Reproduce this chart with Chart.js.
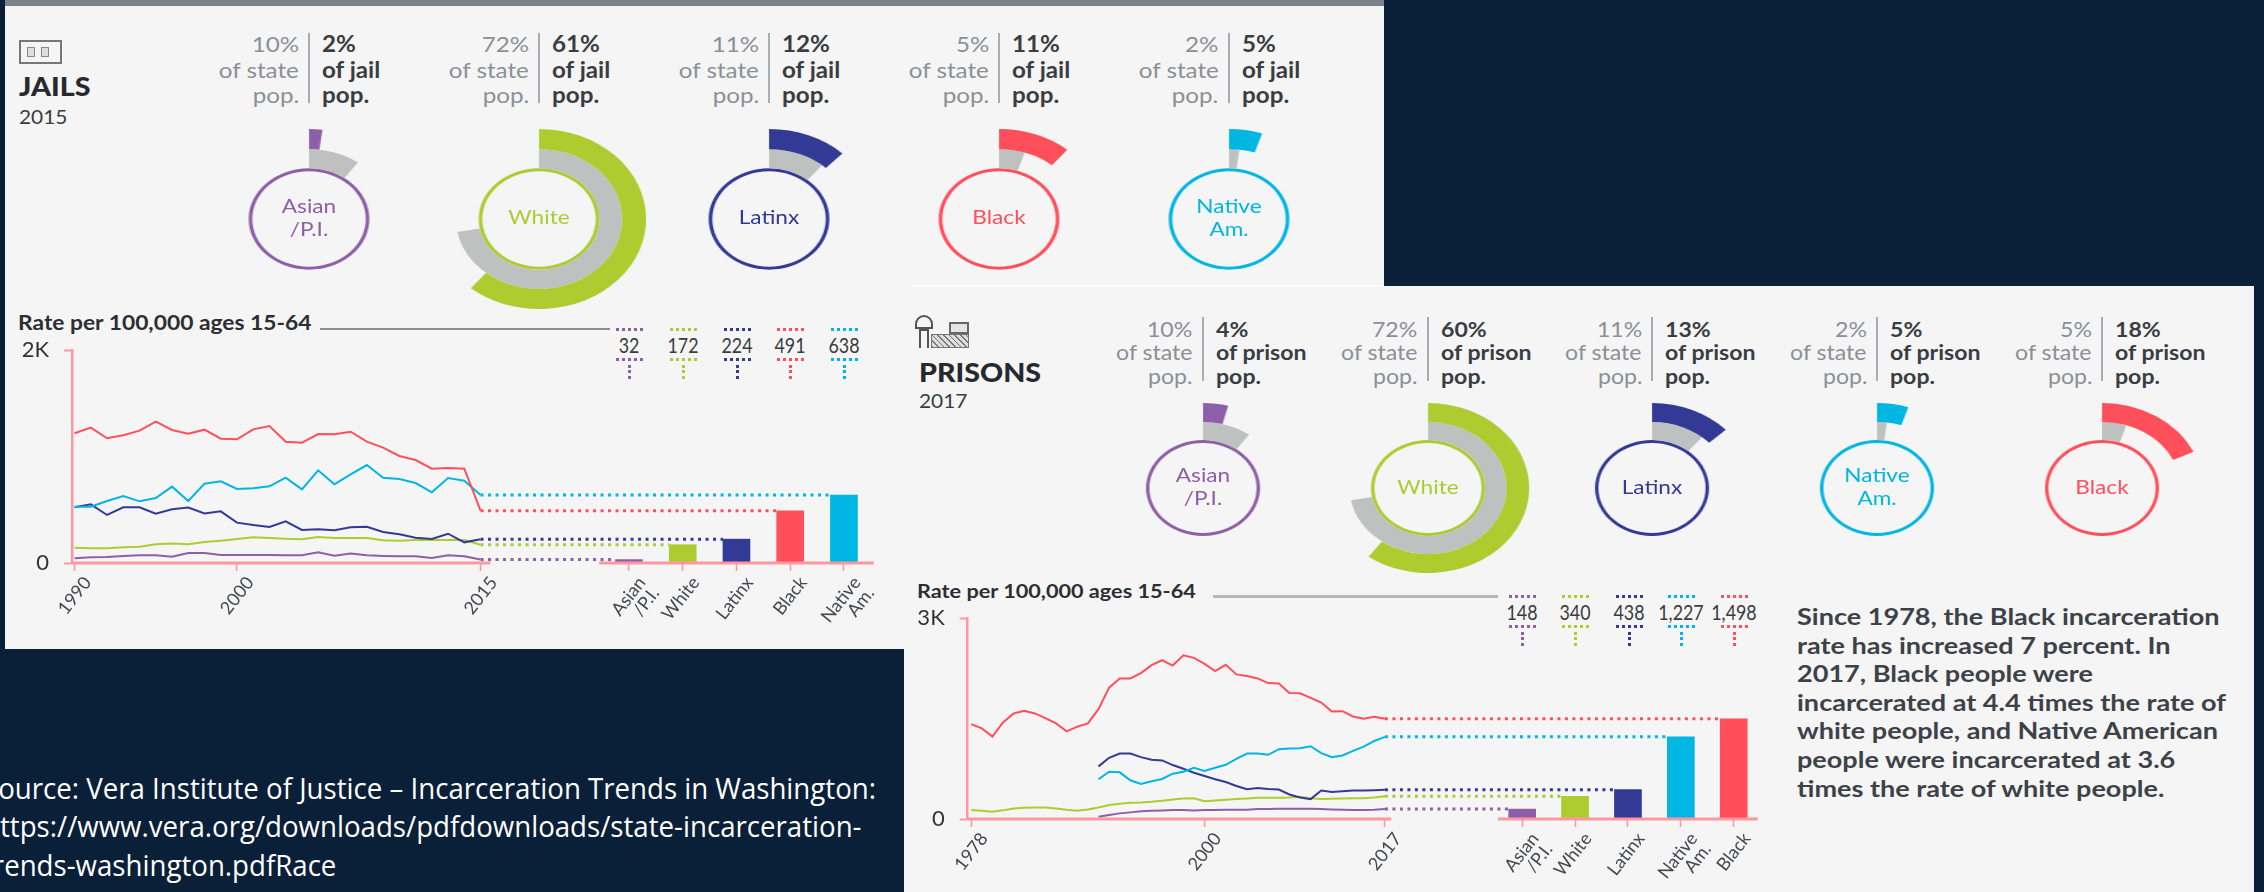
<!DOCTYPE html>
<html>
<head>
<meta charset="utf-8">
<title>Jails and prisons</title>
<script src="https://cdn.jsdelivr.net/npm/chart.js@4"></script>
<style>
html, body { margin: 0; padding: 0; width: 2264px; height: 892px; overflow: hidden; background: #0a1f38; font-family: Lato, sans-serif; }
.panel { position: absolute; background: #f5f5f5; }
.abs { position: absolute; white-space: nowrap; }
.txt { position: absolute; white-space: nowrap; transform-origin: left center; transform: scaleX(1.1); }
.left { transform-origin: right center; text-align: right; }
.grey { color: #8b9097; }
.dark { color: #3a3d42; font-weight: 700; }
canvas { position: absolute; left: 0; top: 0; }
.ring { position: absolute; transform: scaleX(1.19); }
.ringlabel { position: absolute; left: 0; right: 0; text-align: center; font-size: 19px; line-height: 23px; }
</style>
</head>
<body>
<div class="panel" id="jailPanel" style="left:5px;top:0;width:1379px;height:649px"></div>
<div class="abs" style="left:5px;top:0;width:1379px;height:6px;background:#7a828c"></div>
<div class="panel" id="prisonPanel" style="left:904px;top:286px;width:1350px;height:606px"></div>
<div class="abs" style="left:911px;top:285px;width:473px;height:1px;background:#fff"></div>
<div id="page"></div>
<canvas id="jailChart" width="900" height="320" style="left:0;top:320px;width:900px;height:320px"></canvas>
<canvas id="prisonChart" width="900" height="302" style="left:900px;top:590px;width:900px;height:302px"></canvas>

<script>
// colours per group
const raceColors = { asian: '#8e5fa8', white: '#aecb2f', latinx: '#323a96', black: '#ff4f5a', native: '#00b6e2' };
const greyRing = '#bfc1c0';
const axisPink = '#ff97a0';

// JAILS 2015
const jailGroups = ['asian', 'white', 'latinx', 'black', 'native'];
const jailLabels = [['Asian', '/P.I.'], ['White'], ['Latinx'], ['Black'], ['Native', 'Am.']];
const jailPop = [10, 72, 11, 5, 2];
const jailShare = [2, 61, 12, 11, 5];
const jailRates = [32, 172, 224, 491, 638];
const jailYTicks = [0, 2000];
const jailYLabels = ['0', '2K'];
const jailYearTicks = [1990, 2000, 2015];
const jailStart = 1990;
const jailBlack = [1218, 1271, 1171, 1199, 1243, 1327, 1249, 1214, 1252, 1167, 1161, 1255, 1286, 1139, 1130, 1211, 1208, 1233, 1139, 1083, 1005, 967, 886, 892, 886, 491];
const jailNative = [529, 529, 582, 629, 579, 610, 717, 582, 745, 767, 695, 701, 720, 801, 692, 870, 739, 833, 920, 801, 789, 751, 664, 798, 773, 638];
const jailLatinx = [523, 551, 451, 523, 523, 463, 504, 520, 466, 485, 379, 357, 338, 391, 310, 316, 307, 335, 341, 291, 269, 238, 225, 275, 194, 224];
const jailWhite = [144, 138, 138, 147, 153, 175, 182, 175, 197, 210, 225, 241, 235, 228, 222, 244, 235, 235, 235, 213, 210, 216, 216, 216, 216, 172];
const jailAsian = [44, 53, 56, 66, 72, 72, 59, 94, 94, 75, 75, 75, 75, 72, 72, 100, 69, 88, 72, 66, 63, 63, 47, 72, 63, 32];

// PRISONS 2017
const prisonGroups = ['asian', 'white', 'latinx', 'native', 'black'];
const prisonLabels = [['Asian', '/P.I.'], ['White'], ['Latinx'], ['Native', 'Am.'], ['Black']];
const prisonPop = [10, 72, 11, 2, 5];
const prisonShare = [4, 60, 13, 5, 18];
const prisonRates = [148, 340, 438, 1227, 1498];
const prisonYTicks = [0, 3000];
const prisonYLabels = ['0', '3K'];
const prisonYearTicks = [1978, 2000, 2017];
const prisonBlackStart = 1978;
const prisonOtherStart = 1990;
const prisonBlack = [1418, 1354, 1231, 1443, 1577, 1616, 1577, 1507, 1428, 1310, 1379, 1428, 1641, 1962, 2100, 2100, 2179, 2298, 2372, 2293, 2446, 2407, 2318, 2209, 2303, 2160, 2135, 2100, 2031, 2026, 1883, 1878, 1809, 1740, 1606, 1611, 1532, 1497, 1527, 1498];
const prisonWhite = [133, 124, 109, 129, 158, 168, 173, 173, 158, 138, 124, 143, 173, 208, 227, 242, 247, 257, 272, 292, 306, 311, 267, 277, 287, 297, 306, 316, 316, 316, 321, 331, 311, 297, 302, 306, 311, 311, 321, 340];
const prisonNative = [593, 707, 697, 578, 524, 563, 598, 677, 707, 766, 716, 766, 810, 899, 978, 978, 959, 1043, 1053, 1058, 1087, 983, 924, 949, 1018, 1082, 1166, 1227];
const prisonLatinx = [786, 914, 979, 979, 924, 885, 875, 806, 751, 692, 642, 593, 553, 494, 445, 464, 450, 440, 366, 321, 297, 425, 405, 415, 425, 425, 430, 438];
const prisonAsian = [35, 59, 84, 99, 114, 124, 128, 133, 133, 128, 133, 133, 138, 138, 138, 148, 148, 153, 153, 153, 153, 148, 143, 138, 133, 133, 138, 148];

Chart.defaults.animation = false;
Chart.defaults.font.family = 'Lato, sans-serif';
Chart.defaults.plugins.legend.display = false;
Chart.defaults.plugins.tooltip.enabled = false;

const page = document.getElementById('page');

function addText(text, x, y, size, cls, color) {
    const d = document.createElement('div');
    d.className = 'txt ' + (cls || '');
    d.textContent = text;
    d.style.fontSize = size + 'px';
    d.style.lineHeight = size + 'px';
    d.style.top = (y - size / 2) + 'px';
    if (cls && cls.indexOf('left') >= 0) d.style.right = (2264 - x) + 'px';
    else d.style.left = x + 'px';
    if (color) d.style.color = color;
    page.appendChild(d);
    return d;
}

function addBox(x, y, w, h, css) {
    const d = document.createElement('div');
    d.className = 'abs';
    d.style.cssText += `left:${x}px;top:${y}px;width:${w}px;height:${h}px;` + (css || '');
    page.appendChild(d);
    return d;
}

// one header column: state share | system share
function addHeader(cx, top, lineH, size, pop, share, word) {
    addBox(cx - 1, top, 2, lineH * 3 - 7, 'background:#a9adb1');
    const ys = [top + 11, top + 11 + lineH, top + 11 + lineH * 2];
    addText(pop + '%', cx - 10, ys[0], size, 'left grey');
    addText('of state', cx - 10, ys[1], size, 'left grey');
    addText('pop.', cx - 10, ys[2], size, 'left grey');
    addText(share + '%', cx + 13, ys[0], size, 'dark');
    addText('of ' + word, cx + 13, ys[1], size, 'dark');
    addText('pop.', cx + 13, ys[2], size, 'dark');
}

// the rings are doughnuts: outer = share of system, grey = share of state, thin = label circle
function addRing(cx, cy, r, cut, color, pop, share, label) {
    const wrap = document.createElement('div');
    wrap.className = 'ring';
    wrap.style.cssText = `left:${cx - r}px;top:${cy - r}px;width:${r * 2}px;height:${r * 2}px`;
    const c = document.createElement('canvas');
    c.width = r * 2;
    c.height = r * 2;
    wrap.appendChild(c);
    const lab = document.createElement('div');
    lab.className = 'ringlabel';
    lab.style.color = color;
    lab.style.top = (r - label.length * 11.5 - 2) + 'px';
    lab.innerHTML = label.join('<br>');
    wrap.appendChild(lab);
    page.appendChild(wrap);
    new Chart(c, {
        type: 'doughnut',
        data: {
            datasets: [
                { data: [share, 100 - share], backgroundColor: [color, 'transparent'], borderWidth: 0, weight: 20 },
                { data: [pop, 100 - pop], backgroundColor: [greyRing, 'transparent'], borderWidth: 0, weight: 19 },
                { data: [100], backgroundColor: [color], borderWidth: 0, weight: 3 }
            ]
        },
        options: { responsive: false, cutout: cut + '%', layout: { padding: 0 } }
    });
}

// dotted rows and value above each bar
function addRateKey(xs, top, rates, groups) {
    xs.forEach((x, i) => {
        const col = raceColors[groups[i]];
        addBox(x - 13, top, 27, 0, `border-top:3px dotted ${col}`);
        const t = addText(rates[i].toLocaleString('en-US'), x, top + 16, 21, '', '#3a3c40');
        t.style.transform = 'translateX(-50%) scaleX(0.85)';
        t.style.transformOrigin = 'center';
        addBox(x - 13, top + 30, 27, 0, `border-top:3px dotted ${col}`);
        addBox(x - 1, top + 37, 0, 14, `border-left:3px dotted ${col}`);
    });
}

function series(start, values) {
    return values.map((v, i) => ({ x: start + i, y: v }));
}

function rateChart(id, cfg) {
    const slots = cfg.labels.map((l, i) => cfg.slot0 + i * cfg.slotStep);
    const halfBar = 13.5 / cfg.pxPerYear;
    const datasets = [];
    // bars
    datasets.push({
        type: 'bar',
        data: slots.map((s, i) => ({ x: s, y: cfg.rates[i] })),
        backgroundColor: cfg.groups.map(g => raceColors[g]),
        barThickness: 27,
        order: 5
    });
    // dotted connectors from the last year to each bar
    cfg.groups.forEach((g, i) => {
        datasets.push({
            type: 'line',
            data: [{ x: cfg.endYear, y: cfg.rates[i] }, { x: slots[i] - halfBar, y: cfg.rates[i] }],
            borderColor: raceColors[g],
            borderWidth: 3,
            borderDash: [3, 4.5],
            pointRadius: 0,
            order: 3
        });
    });
    // yearly lines
    cfg.lines.forEach(l => {
        datasets.push({
            type: 'line',
            data: l.points,
            borderColor: raceColors[l.group],
            borderWidth: 2,
            pointRadius: 0,
            tension: 0,
            order: 2
        });
    });
    // baseline with the gap between lines and bars
    [[cfg.xMin, cfg.endYear + 0.6], [slots[0] - halfBar - 1, slots[slots.length - 1] + halfBar + 1]].forEach(seg => {
        datasets.push({
            type: 'line',
            data: [{ x: seg[0], y: 0 }, { x: seg[1], y: 0 }],
            borderColor: axisPink,
            borderWidth: 3,
            pointRadius: 0,
            clip: false,
            order: 1
        });
    });
    const xValues = cfg.yearTicks.concat(slots);
    const xText = cfg.yearTicks.map(String).concat(cfg.labels);
    new Chart(document.getElementById(id), {
        type: 'line',
        data: { datasets },
        options: {
            responsive: false,
            layout: { padding: { top: cfg.padTop, right: cfg.padRight, left: 0, bottom: 0 } },
            scales: {
                x: {
                    type: 'linear',
                    offset: false,
                    min: cfg.xMin,
                    max: cfg.xMax,
                    afterBuildTicks: s => { s.ticks = xValues.map(v => ({ value: v })); },
                    afterFit: s => { s.height = cfg.xAxisH; },
                    border: { display: false },
                    grid: { offset: false, drawOnChartArea: false, drawTicks: true, tickLength: 8, tickColor: axisPink, tickWidth: 1.5 },
                    ticks: {
                        autoSkip: false,
                        minRotation: 52,
                        maxRotation: 52,
                        labelOffset: 13,
                        padding: 3,
                        color: '#44474c',
                        font: { size: 18, lineHeight: 0.95 },
                        callback: (v, i) => xText[i]
                    }
                },
                y: {
                    min: cfg.yTicks[0],
                    max: cfg.yTicks[1],
                    afterBuildTicks: s => { s.ticks = cfg.yTicks.map(v => ({ value: v })); },
                    afterFit: s => { s.width = cfg.yAxisW; },
                    border: { color: axisPink, width: 2.5 },
                    grid: { drawOnChartArea: false, tickLength: 8, tickColor: axisPink, tickWidth: 2 },
                    ticks: {
                        padding: 15,
                        color: '#333',
                        font: { size: 22 },
                        callback: (v, i) => cfg.yLabels[i]
                    }
                }
            }
        }
    });
}

// ---- jails panel ----
const jailX = [309, 539, 769, 999, 1228.5];
jailGroups.forEach((g, i) => {
    addHeader(jailX[i], 33, 25.5, 22, jailPop[i], jailShare[i], 'jail');
    addRing(jailX[i], 218.5, 90, 53, raceColors[g], jailPop[i], jailShare[i], jailLabels[i]);
});
addBox(19, 40, 39, 20, 'border:2px solid #777');
addBox(27, 47, 6, 8, 'border:1.5px solid #888;background:#ddd');
addBox(41, 47, 6, 8, 'border:1.5px solid #888;background:#ddd');
addText('JAILS', 19, 86, 26, '', '#26292e').style.fontWeight = 900;
addText('2015', 19, 116, 19, '', '#3a3c40');
const jailTitle = addText('Rate per 100,000 ages 15-64', 18, 322, 20, 'dark');
jailTitle.style.color = '#2c2e33';
jailTitle.style.transform = 'scaleX(1.14)';
addBox(320, 328, 290, 2, 'background:#8a8f95');
addRateKey([629, 683, 736.5, 790, 844], 328, jailRates, jailGroups);

rateChart('jailChart', {
    labels: jailLabels, groups: jailGroups, rates: jailRates,
    yTicks: jailYTicks, yLabels: jailYLabels, yearTicks: jailYearTicks,
    endYear: 2015, xMin: 1989.84, xMax: 2039.6, pxPerYear: 16.24,
    slot0: 2024.14, slotStep: 3.31,
    padTop: 30, padRight: 20, yAxisW: 72, xAxisH: 77,
    lines: [
        { group: 'black', points: series(jailStart, jailBlack) },
        { group: 'native', points: series(jailStart, jailNative) },
        { group: 'latinx', points: series(jailStart, jailLatinx) },
        { group: 'white', points: series(jailStart, jailWhite) },
        { group: 'asian', points: series(jailStart, jailAsian) }
    ]
});

// ---- prisons panel ----
const prisonX = [1202.6, 1427.6, 1652, 1877, 2102];
prisonGroups.forEach((g, i) => {
    addHeader(prisonX[i], 317, 23.5, 21, prisonPop[i], prisonShare[i], 'prison');
    addRing(prisonX[i], 488, 85, 53, raceColors[g], prisonPop[i], prisonShare[i], prisonLabels[i]);
});
// prison icon: tower, building, fence
addBox(915, 315, 18, 14, 'border:2px solid #555;border-radius:9px 9px 0 0;box-sizing:border-box');
addBox(919, 329, 10, 19, 'border:2px solid #555;border-bottom:0;box-sizing:border-box');
addBox(949, 322, 20, 12, 'border:2px solid #666;box-sizing:border-box;background:#e4e4e4');
addBox(931, 334, 38, 14, 'background:repeating-linear-gradient(45deg,#777 0 1px,#ddd 1px 4px);border:1px solid #777;box-sizing:border-box');
addText('PRISONS', 919, 372, 26, '', '#26292e').style.fontWeight = 900;
addText('2017', 919, 400, 19, '', '#3a3c40');
const prisonTitle = addText('Rate per 100,000 ages 15-64', 917, 590, 19, 'dark');
prisonTitle.style.color = '#2c2e33';
prisonTitle.style.transform = 'scaleX(1.14)';
addBox(1213, 595, 285, 3, 'background:#b5b8bb');
addRateKey([1522.3, 1575, 1628.5, 1681.3, 1734], 595, prisonRates, prisonGroups);

rateChart('prisonChart', {
    labels: prisonLabels, groups: prisonGroups, rates: prisonRates,
    yTicks: prisonYTicks, yLabels: prisonYLabels, yearTicks: prisonYearTicks,
    endYear: 2017, xMin: 1977.67, xMax: 2053.3, pxPerYear: 10.61,
    slot0: 2029.94, slotStep: 4.985,
    padTop: 27, padRight: 30, yAxisW: 67.7, xAxisH: 73,
    lines: [
        { group: 'black', points: series(prisonBlackStart, prisonBlack) },
        { group: 'native', points: series(prisonOtherStart, prisonNative) },
        { group: 'latinx', points: series(prisonOtherStart, prisonLatinx) },
        { group: 'white', points: series(prisonBlackStart, prisonWhite) },
        { group: 'asian', points: series(prisonOtherStart, prisonAsian) }
    ]
});

const noteLines = [
    'Since 1978, the Black incarceration',
    'rate has increased 7 percent. In',
    '2017, Black people were',
    'incarcerated at 4.4 times the rate of',
    'white people, and Native American',
    'people were incarcerated at 3.6',
    'times the rate of white people.'
];
noteLines.forEach((l, i) => {
    const t = addText(l, 1797, 617 + i * 28.6, 22, 'dark');
    t.style.color = '#3d4249';
    t.style.transform = 'scaleX(1.23)';
});

// source note, runs off the left edge like the screenshot
const sourceLines = [
    'Source: Vera Institute of Justice \u2013 Incarceration Trends in Washington:',
    'https://www.vera.org/downloads/pdfdownloads/state-incarceration-',
    'trends-washington.pdfRace'
];
sourceLines.forEach((l, i) => {
    const t = addText(l, -17, 787 + i * 38.5, 29, '', '#fff');
    t.style.fontFamily = '"Open Sans", sans-serif';
    t.style.transform = 'scaleX(0.953)';
});
</script>
</body>
</html>
